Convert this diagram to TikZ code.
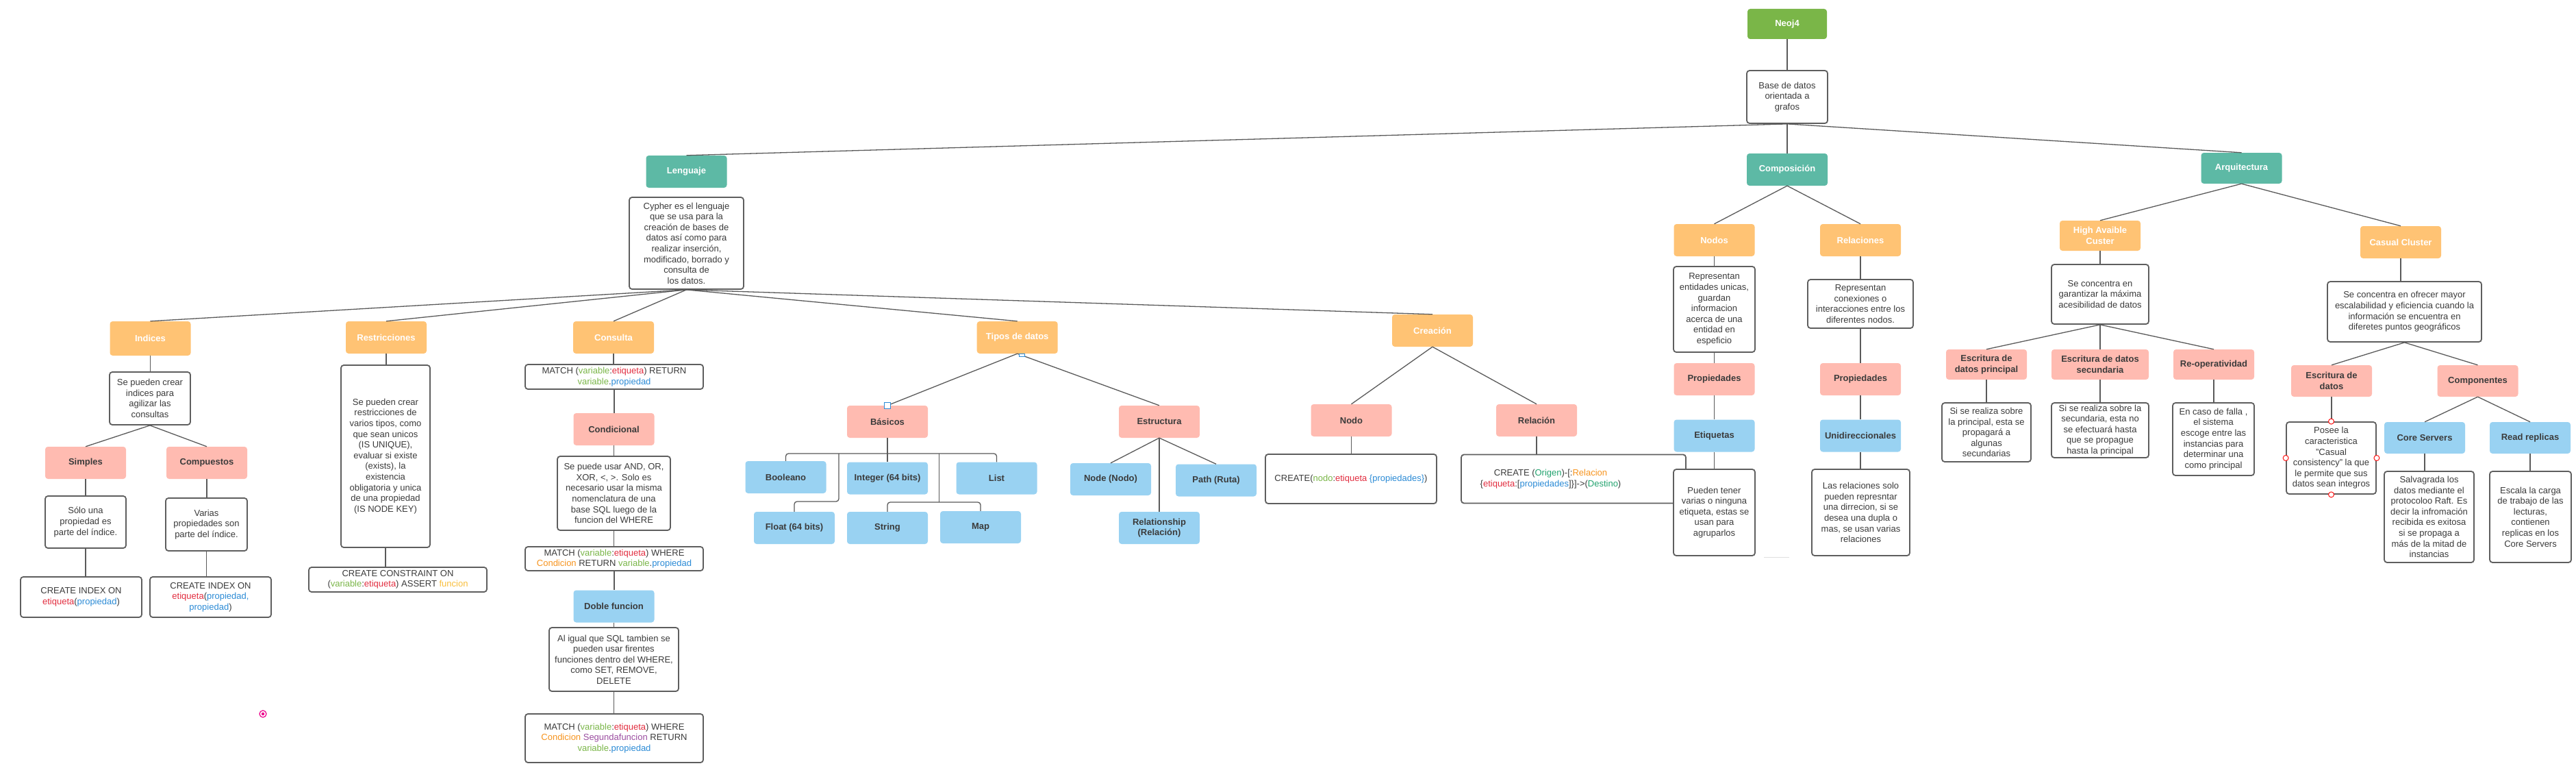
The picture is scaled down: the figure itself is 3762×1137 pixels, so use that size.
\documentclass[tikz,border=0pt]{standalone}
\usepackage{fontspec}
\setmainfont{Liberation Sans}
\definecolor{cgreen}{HTML}{7AB648}
\definecolor{cteal}{HTML}{5DB9A5}
\definecolor{corange}{HTML}{FFC374}
\definecolor{cpink}{HTML}{FFBBB1}
\definecolor{cblue}{HTML}{99D2F2}
\definecolor{cborder}{HTML}{5E5E5E}
\definecolor{linec}{HTML}{5A5A5A}
\definecolor{ctext}{HTML}{3B3B3B}
\definecolor{kvar}{HTML}{7AB648}
\definecolor{ket}{HTML}{E22D3F}
\definecolor{kpr}{HTML}{2B8BD6}
\definecolor{kco}{HTML}{F7941E}
\definecolor{kse}{HTML}{9B4DA0}
\definecolor{kfn}{HTML}{F9BE3A}
\definecolor{kog}{HTML}{22A36F}
\newcommand\fs{\fontsize{13}{15.6}\selectfont}
\newcommand\txvar[1]{\textcolor{kvar}{#1}}
\newcommand\txet[1]{\textcolor{ket}{#1}}
\newcommand\txpr[1]{\textcolor{kpr}{#1}}
\newcommand\txco[1]{\textcolor{kco}{#1}}
\newcommand\txse[1]{\textcolor{kse}{#1}}
\newcommand\txfn[1]{\textcolor{kfn}{#1}}
\newcommand\txog[1]{\textcolor{kog}{#1}}
\newcommand\vcon[2]{\draw[conn] (#1.south) -- (#1.south |- #2.north);}
\newcommand\dcon[2]{\draw[conn] (#1.south) -- (#2.north);}
\begin{document}
\begin{tikzpicture}[x=1pt,y=-1pt,
  conn/.style={draw=linec, line width=1.3pt},
  box/.style={rectangle, rounded corners=4pt, align=center, inner sep=2pt, font=\fs},
  tl/.style={box, minimum width=118pt, minimum height=47pt, font=\fs\bfseries},
  tg/.style={tl, fill=cgreen, text=white},
  tt/.style={tl, fill=cteal, text=white},
  torg/.style={tl, fill=corange, text=white},
  tp/.style={tl, fill=cpink, text=ctext},
  tb/.style={tl, fill=cblue, text=ctext},
  db/.style={box, draw=cborder, line width=1.8pt, fill=white, text=ctext},
  plain/.style={align=center, inner sep=0pt, font=\fs, text=ctext},
  handle/.style={draw=#1, fill=white, line width=0.9pt}
]
\fill[white] (0,0) rectangle (3762,1137);
\useasboundingbox (0,0) rectangle (3762,1137);

% top
\node[tg, minimum width=116pt, minimum height=44pt] (neo) at (2610,35) {Neoj4};
\node[db, minimum width=118pt, minimum height=77pt] (base) at (2610,141.5) {Base de datos\\orientada a\\grafos};

% Lenguaje
\node[tt] (leng) at (1002.5,250.5) {Lenguaje};
\node[db, minimum width=167pt, minimum height=134pt] (cyph) at (1002.5,355) {Cypher es el lenguaje\\que se usa para la\\creación de bases de\\datos así como para\\realizar inserción,\\modificado, borrado y\\consulta de\\los datos.};

% Indices
\node[torg, minimum height=50pt] (ind) at (219.5,494) {Indices};
\node[db, minimum width=118pt, minimum height=77pt] (inddesc) at (219,581.5) {Se pueden crear\\indices para\\agilizar las\\consultas};
\node[tp] (simp) at (125,675.5) {Simples};
\node[tp] (comp) at (302,675.5) {Compuestos};
\node[db, minimum width=118pt, minimum height=76pt] (solo) at (125,762) {Sólo una\\propiedad es\\parte del índice.};
\node[db, minimum width=119pt, minimum height=77pt] (varias) at (301.5,765.5) {Varias\\propiedades son\\parte del índice.};
\node[db, minimum width=177pt, minimum height=59pt] (ci1) at (118.5,871.5) {CREATE INDEX ON\\\txet{etiqueta}(\txpr{propiedad})};
\node[db, minimum width=177pt, minimum height=59pt] (ci2) at (307.5,871.5) {CREATE INDEX ON\\\txet{etiqueta}(\txpr{propiedad,}\\\txpr{propiedad})};

% Restricciones
\node[torg] (res) at (564,492.5) {Restricciones};
\node[db, minimum width=130pt, minimum height=266pt] (resdesc) at (563,666) {Se pueden crear\\restricciones de\\varios tipos, como\\que sean unicos\\(IS UNIQUE),\\evaluar si existe\\(exists), la\\existencia\\obligatoria y unica\\de una propiedad\\(IS NODE KEY)};
\node[db, minimum width=260pt, minimum height=36pt, inner ysep=0pt] (cc) at (581,846) {CREATE CONSTRAINT ON\\(\txvar{variable}:\txet{etiqueta}) ASSERT \txfn{funcion}};

% Consulta
\node[torg] (cons) at (896,492.5) {Consulta};
\node[db, minimum width=260pt, minimum height=36pt, inner ysep=0pt] (m1) at (897,550) {MATCH (\txvar{variable}:\txet{etiqueta}) RETURN\\\txvar{variable}.\txpr{propiedad}};
\node[tp] (cond) at (896.5,626.5) {Condicional};
\node[db, minimum width=165pt, minimum height=108pt] (conddesc) at (896.5,720) {Se puede usar AND, OR,\\XOR, <, >. Solo es\\necesario usar la misma\\nomenclatura de una\\base SQL luego de la\\funcion del WHERE};
\node[db, minimum width=260pt, minimum height=35pt, inner ysep=0pt] (m2) at (897,815.5) {MATCH (\txvar{variable}:\txet{etiqueta}) WHERE\\\txco{Condicion} RETURN \txvar{variable}.\txpr{propiedad}};
\node[tb] (doble) at (896.5,885) {Doble funcion};
\node[db, minimum width=189pt, minimum height=93pt] (dobdesc) at (896.5,962.5) {Al igual que SQL tambien se\\pueden usar firentes\\funciones dentro del WHERE,\\como SET, REMOVE,\\DELETE};
\node[db, minimum width=260pt, minimum height=71pt] (m3) at (897,1077.5) {MATCH (\txvar{variable}:\txet{etiqueta}) WHERE\\\txco{Condicion} \txse{Segundafuncion} RETURN\\\txvar{variable}.\txpr{propiedad}};

% Tipos de datos
\node[torg] (tipos) at (1485.7,492.5) {Tipos de datos};
\node[tp] (bas) at (1296,615.5) {Básicos};
\node[tp] (est) at (1693,615.5) {Estructura};
\node[tb] (bool) at (1147.5,696.5) {Booleano};
\node[tb] (int) at (1296,698) {Integer (64 bits)};
\node[tb] (list) at (1455.5,698) {List};
\node[tb] (float) at (1160,770.5) {Float (64 bits)};
\node[tb] (string) at (1296,770.5) {String};
\node[tb] (map) at (1432,769.5) {Map};
\node[tb] (noden) at (1622,699.5) {Node (Nodo)};
\node[tb] (path) at (1776,701) {Path (Ruta)};
\node[tb] (rel) at (1693,770.5) {Relationship\\(Relación)};

% Creacion
\node[torg] (crea) at (2092,482.5) {Creación};
\node[tp] (nodo) at (1973.5,613.5) {Nodo};
\node[tp] (relc) at (2244,613.5) {Relación};
\node[db, minimum width=250pt, minimum height=72pt] (cn) at (1973,699) {CREATE(\txvar{nodo}:\txet{etiqueta} \txpr{\{propiedades\}})};
\node[db, minimum width=328pt, minimum height=71pt] (cr) at (2298,699) {};
\node[plain] (crt) at (2264.5,699) {CREATE (\txog{Origen})-[:\txco{Relacion}\\\{\txet{etiqueta}:[\txpr{propiedades}]\}]->(\txog{Destino})};

% Composicion
\node[tt] (compo) at (2610,247.5) {Composición};
\node[torg] (nodos) at (2503.5,350.5) {Nodos};
\node[torg] (rels) at (2717,350.5) {Relaciones};
\node[db, minimum width=119pt, minimum height=125pt] (nodosd) at (2503.5,451.5) {Representan\\entidades unicas,\\guardan\\informacion\\acerca de una\\entidad en\\espeficio};
\node[db, minimum width=154pt, minimum height=71pt] (relsd) at (2717,443.5) {Representan\\conexiones o\\interacciones entre los\\diferentes nodos.};
\node[tp] (prop1) at (2503.5,553.5) {Propiedades};
\node[tp] (prop2) at (2717,553.5) {Propiedades};
\node[tb] (etiq) at (2503.5,636) {Etiquetas};
\node[tb] (unid) at (2717,636) {Unidireccionales};
\node[db, minimum width=119pt, minimum height=126pt] (etiqd) at (2503.5,748) {Pueden tener\\varias o ninguna\\etiqueta, estas se\\usan para\\agruparlos};
\node[db, minimum width=143pt, minimum height=126pt] (unidd) at (2717.5,748) {Las relaciones solo\\pueden represntar\\una dirrecion, si se\\desea una dupla o\\mas, se usan varias\\relaciones};

% Arquitectura
\node[tt, minimum height=45pt] (arq) at (3273.5,245.5) {Arquitectura};
\node[torg, minimum height=44pt] (ha) at (3067,344) {High Avaible\\Custer};
\node[db, minimum width=142pt, minimum height=87pt] (had) at (3067,429.5) {Se concentra en\\garantizar la máxima\\acesibilidad de datos};
\node[tp, minimum height=44pt] (ep) at (2901,532) {Escritura de\\datos principal};
\node[tp, minimum width=142pt, minimum height=44pt] (es) at (3067,532) {Escritura de datos\\secundaria};
\node[tp, minimum height=44pt] (reop) at (3233,532) {Re-operatividad};
\node[db, minimum width=130pt, minimum height=86pt] (epd) at (2901,631) {Si se realiza sobre\\la principal, esta se\\propagará a\\algunas\\secundarias};
\node[db, minimum width=142pt, minimum height=80pt] (esd) at (3067,628) {Si se realiza sobre la\\secundaria, esta no\\se efectuará hasta\\que se propague\\hasta la principal};
\node[db, minimum width=119pt, minimum height=106pt] (reopd) at (3232.5,641) {En caso de falla ,\\el sistema\\escoge entre las\\instancias para\\determinar una\\como principal};
\node[torg] (cas) at (3506,353.5) {Casual Cluster};
\node[db, minimum width=225pt, minimum height=88pt] (casd) at (3511.5,455) {Se concentra en ofrecer mayor\\escalabilidad y eficiencia cuando la\\información se encuentra en\\diferetes puntos geográficos};
\node[tp, minimum height=46pt] (ed) at (3405,556) {Escritura de\\datos};
\node[tp, minimum height=46pt] (compn) at (3618.5,556) {Componentes};
\node[db, minimum width=131pt, minimum height=105pt] (posee) at (3404.5,668.5) {Posee la\\caracteristica\\"Casual\\consistency" la que\\le permite que sus\\datos sean integros};
\node[tb, minimum height=46pt] (core) at (3541,639) {Core Servers};
\node[tb, minimum height=46pt] (read) at (3695,639) {Read replicas};
\node[db, minimum width=131pt, minimum height=133pt] (salv) at (3547.5,754.5) {Salvagrada los\\datos mediante el\\protocoloo Raft. Es\\decir la infromación\\recibida es exitosa\\si se propaga a\\más de la mitad de\\instancias};
\node[db, minimum width=119pt, minimum height=133pt] (esc) at (3695.5,754.5) {Escala la carga\\de trabajo de las\\lecturas,\\contienen\\replicas en los\\Core Servers};

% connectors
\vcon{neo}{base}
\dcon{base}{leng}
\vcon{base}{compo}
\dcon{base}{arq}
\dcon{cyph}{ind}
\dcon{cyph}{res}
\dcon{cyph}{cons}
\dcon{cyph}{tipos}
\dcon{cyph}{crea}
\vcon{ind}{inddesc}
\dcon{inddesc}{simp}
\dcon{inddesc}{comp}
\vcon{simp}{solo}
\vcon{comp}{varias}
\vcon{solo}{ci1}
\vcon{varias}{ci2}
\vcon{res}{resdesc}
\vcon{resdesc}{cc}
\vcon{cons}{m1}
\vcon{m1}{cond}
\vcon{cond}{conddesc}
\vcon{conddesc}{m2}
\vcon{m2}{doble}
\vcon{doble}{dobdesc}
\vcon{dobdesc}{m3}
\dcon{tipos}{bas}
\dcon{tipos}{est}
\coordinate (bar) at (1296,662);
\coordinate (fj) at (1225,662);
\coordinate (fk) at (1225,732);
\coordinate (sj) at (1371.5,662);
\coordinate (sk) at (1371.5,733);
\vcon{bas}{int}
\draw[conn, rounded corners=4pt] (bool.north) |- (bar) -| (list.north);
\draw[conn, rounded corners=4pt] (fj) -- (fk) -| (float.north);
\draw[conn, rounded corners=4pt] (sj) -- (sk);
\draw[conn, rounded corners=4pt] (string.north) |- (sk) -| (map.north);
\dcon{est}{noden}
\dcon{est}{path}
\vcon{est}{rel}
\dcon{crea}{nodo}
\dcon{crea}{relc}
\vcon{nodo}{cn}
\vcon{relc}{cr}
\dcon{compo}{nodos}
\dcon{compo}{rels}
\vcon{nodos}{nodosd}
\vcon{nodosd}{prop1}
\vcon{prop1}{etiq}
\vcon{etiq}{etiqd}
\vcon{rels}{relsd}
\vcon{relsd}{prop2}
\vcon{prop2}{unid}
\vcon{unid}{unidd}
\dcon{arq}{ha}
\dcon{arq}{cas}
\vcon{ha}{had}
\dcon{had}{ep}
\vcon{had}{es}
\dcon{had}{reop}
\vcon{ep}{epd}
\vcon{es}{esd}
\vcon{reop}{reopd}
\vcon{cas}{casd}
\dcon{casd}{ed}
\dcon{casd}{compn}
\vcon{ed}{posee}
\dcon{compn}{core}
\dcon{compn}{read}
\vcon{core}{salv}
\vcon{read}{esc}

% selection marks
\draw[handle=kpr] (1291,587) rectangle (1300,596);
\draw[handle=kpr] (1488,516) rectangle (1496,520);
\draw[handle=red] (posee.north) circle (4);
\draw[handle=red] (posee.south) circle (4);
\draw[handle=red] (posee.west) circle (4);
\draw[handle=red] (posee.east) circle (4);
\draw[draw=magenta, line width=1.2pt] (384,1042) circle (5);
\fill[magenta] (384,1042) circle (2.2);
\draw[draw=gray!25, line width=1pt] (2576,813) -- (2613,813);
\end{tikzpicture}
\end{document}
